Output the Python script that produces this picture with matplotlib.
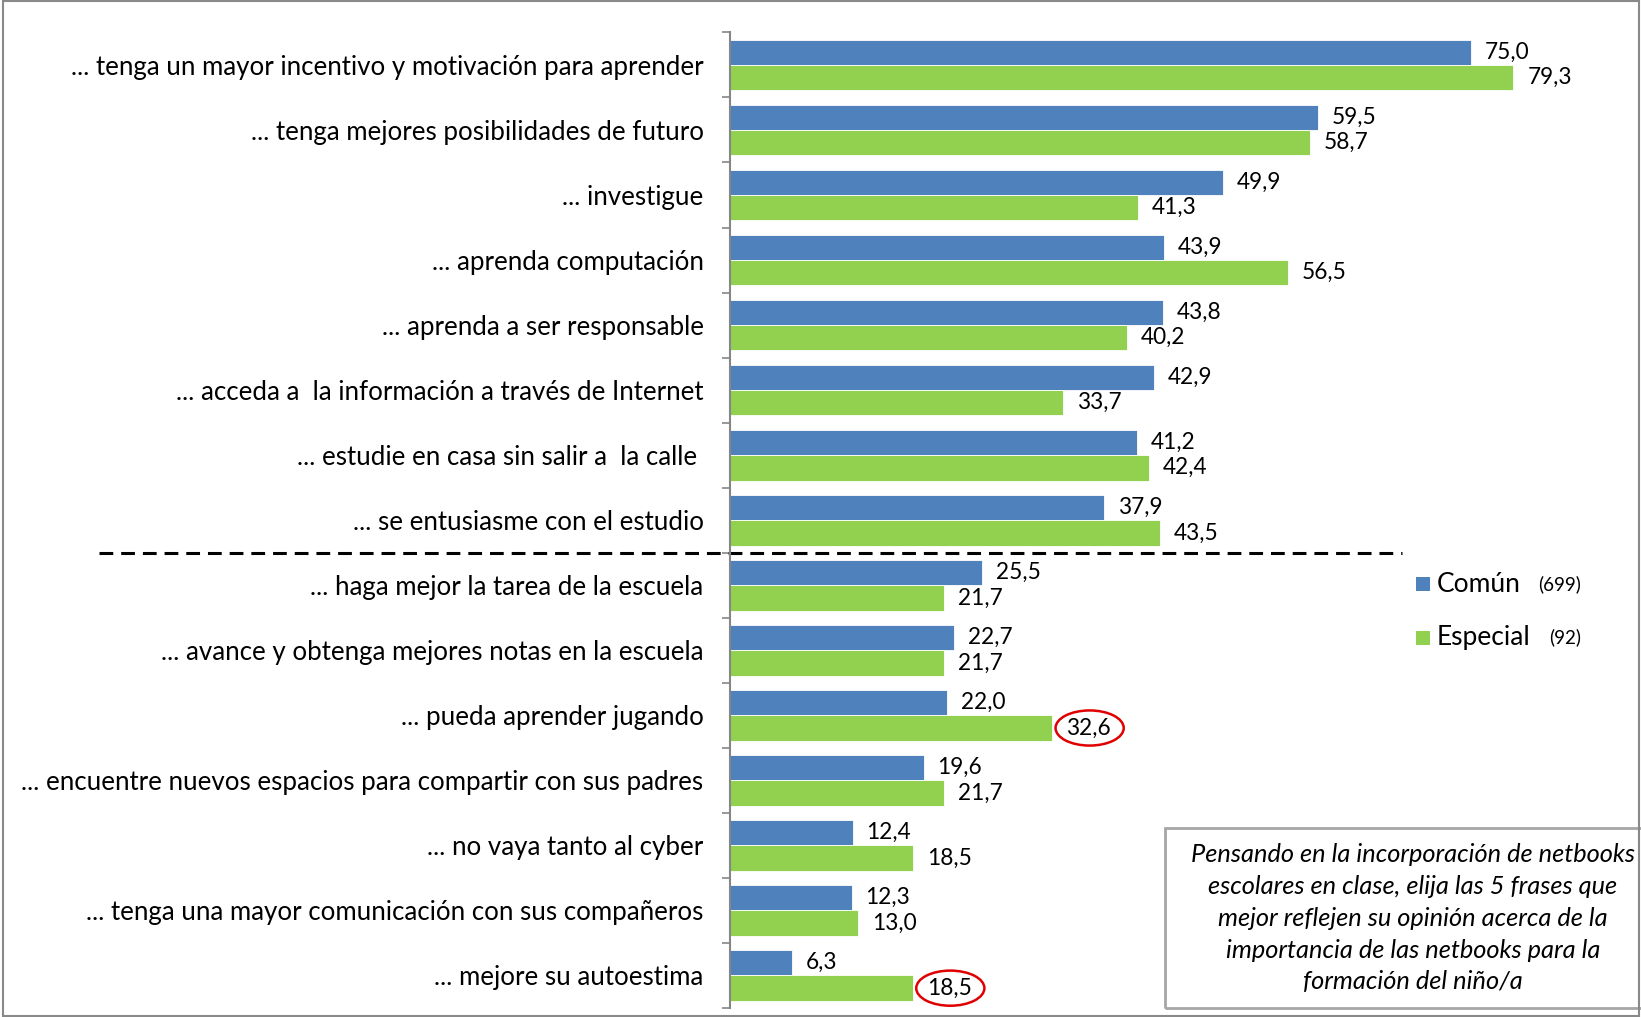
import matplotlib.pyplot as plt
import matplotlib.transforms as mtransforms
from matplotlib.patches import Ellipse, Rectangle
import numpy as np

plt.rcParams['font.family'] = ['Lato', 'DejaVu Sans']

# Frases (de arriba hacia abajo)
frases = [
    '... tenga un mayor incentivo y motivación para aprender',
    '... tenga mejores posibilidades de futuro',
    '... investigue',
    '... aprenda computación',
    '... aprenda a ser responsable',
    '... acceda a  la información a través de Internet',
    '... estudie en casa sin salir a  la calle ',
    '... se entusiasme con el estudio',
    '... haga mejor la tarea de la escuela',
    '... avance y obtenga mejores notas en la escuela',
    '... pueda aprender jugando',
    '... encuentre nuevos espacios para compartir con sus padres',
    '... no vaya tanto al cyber',
    '... tenga una mayor comunicación con sus compañeros',
    '... mejore su autoestima',
]

comun = [75.0, 59.5, 49.9, 43.9, 43.8, 42.9, 41.2, 37.9, 25.5, 22.7, 22.0, 19.6, 12.4, 12.3, 6.3]
especial = [79.3, 58.7, 41.3, 56.5, 40.2, 33.7, 42.4, 43.5, 21.7, 21.7, 32.6, 21.7, 18.5, 13.0, 18.5]

series = ['Común', 'Especial']
muestras = ['(699)', '(92)']
colores = ['#4F81BD', '#92D050']

# frases destacadas con un círculo rojo (índices sobre la serie Especial)
destacados = [10, 14]

fig = plt.figure(figsize=(16.41, 10.17), dpi=100)
ax = fig.add_axes([730 / 1641, 9 / 1017, 1 - 730 / 1641, (1008 - 32.4) / 1017])

y = np.arange(len(frases))
h = 0.39
b1 = ax.barh(y - h / 2, comun, height=h, color=colores[0], edgecolor='white', linewidth=0.6)
b2 = ax.barh(y + h / 2, especial, height=h, color=colores[1], edgecolor='white', linewidth=0.6)

fmt = lambda v: f'{v:.1f}'.replace('.', ',')
ax.bar_label(b1, labels=[fmt(v) for v in comun], padding=10, fontsize=16.3)
ax.bar_label(b2, labels=[fmt(v) for v in especial], padding=10, fontsize=16.3)

for i in destacados:
    ax.add_patch(Ellipse((especial[i] + 3.8, i + h / 2), 6.9, 0.54,
                         fill=False, edgecolor='#E00000', linewidth=1.8, clip_on=False))

ax.set_xlim(0, 911 / 9.88)
ax.set_ylim(len(frases) - 0.5, -0.5)

ax.set_yticks(y)
ax.set_yticklabels(frases, fontsize=18.6)
ax.set_yticks(np.arange(len(frases) + 1) - 0.5, minor=True)
ax.tick_params(axis='y', which='major', length=0, pad=19)
ax.tick_params(axis='y', which='minor', length=6, width=1.2, color='#868686', direction='out')
ax.set_xticks([])
for s in ['top', 'right', 'bottom']:
    ax.spines[s].set_visible(False)
ax.spines['left'].set_color('#868686')
ax.spines['left'].set_linewidth(1.5)

# línea de corte entre las 8 primeras y el resto
tr = mtransforms.blended_transform_factory(fig.transFigure, ax.transData)
ax.plot([99 / 1641, 1402 / 1641], [7.5, 7.5], transform=tr, color='black',
        linewidth=2.2, linestyle=(0, (4.5, 2.6)), clip_on=False)

# leyenda
for k, (nombre, n, c) in enumerate(zip(series, muestras, colores)):
    yy = 1 - (584 + 53.5 * k) / 1017
    fig.patches.append(Rectangle((1416 / 1641, yy - 7 / 1017), 14 / 1641, 14 / 1017,
                                 transform=fig.transFigure, facecolor=c, edgecolor='none'))
    fig.text(1437 / 1641, yy, nombre, fontsize=19, va='center', ha='left')
    fig.text((1538 + 11 * k) / 1641, yy, n, fontsize=13.5, va='center', ha='left')

# recuadro con la consigna
fig.patches.append(Rectangle((1165 / 1641, 1 - 1008 / 1017), 500 / 1641, 180 / 1017,
                             transform=fig.transFigure, fill=False, edgecolor='#A6A6A6',
                             linewidth=2, clip_on=True))
consigna = ['Pensando en la incorporación de netbooks',
            'escolares en clase, elija las 5 frases que',
            'mejor reflejen su opinión acerca de la',
            'importancia de las netbooks para la',
            'formación del niño/a']
for k, linea in enumerate(consigna):
    fig.text(1413 / 1641, 1 - (854 + 32 * k) / 1017, linea, fontsize=18.3,
             style='italic', ha='center', va='center')

# marco exterior
fig.patches.append(Rectangle((0.002, 0.001), 0.997, 0.998, transform=fig.transFigure,
                             fill=False, edgecolor='#898989', linewidth=1.5))

fig.savefig('out.png', dpi=100)
